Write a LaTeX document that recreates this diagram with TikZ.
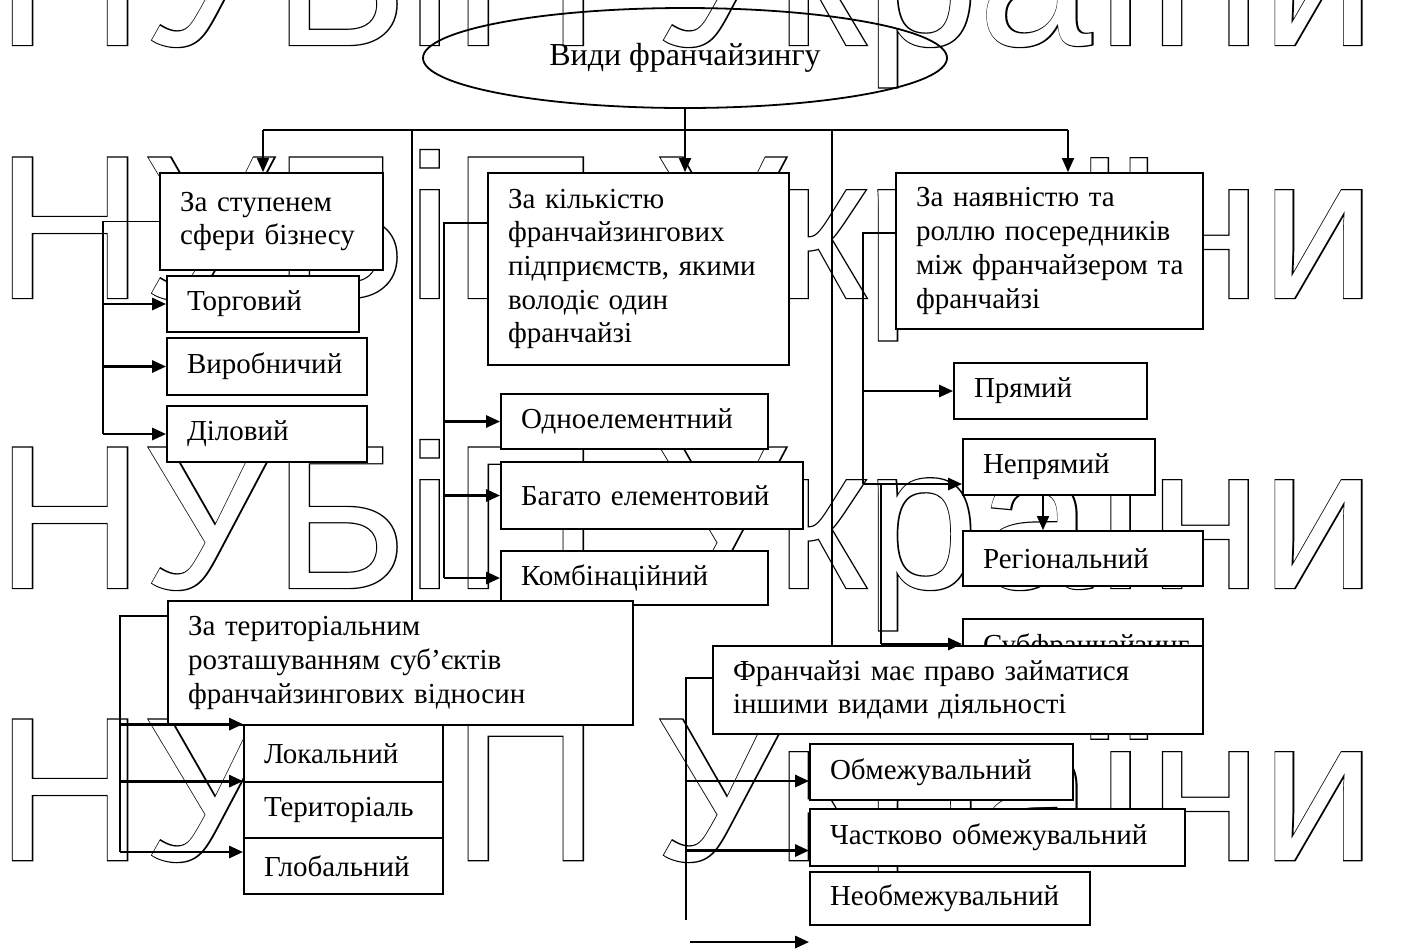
\documentclass[tikz,border=0pt]{standalone}
\usepackage{fontspec}
\setmainfont{Liberation Serif}
\newfontfamily\wmfont{Liberation Sans}
\newfontfamily\wmfontbold[FakeBold=1.2]{Liberation Sans}
\usetikzlibrary{arrows.meta,shapes.geometric}

\begin{document}
\begin{tikzpicture}[x=0.5pt,y=-0.5pt]
  \tikzset{
    box/.style={draw,line width=0.9pt,fill=white,align=left,inner xsep=10pt,inner ysep=0pt,
      font=\fontsize{14.5}{16.85}\selectfont},
    oval/.style={ellipse,draw,line width=0.9pt,inner sep=0pt,font=\fontsize{16}{19}\selectfont},
    conn/.style={line width=0.8pt},
    arr/.style={-{Triangle[length=7pt,width=6pt]},line width=1.4pt},
    wmark/.style={anchor=base west,inner sep=0pt,font=\fontsize{102}{102}\selectfont},
  }
  \useasboundingbox (0,0) rectangle (1406,950);
  % background lettering
  \foreach \y in {45,298,588,860} {
    \node[wmark] at (-4,\y) {\wmfontbold НУБіП України};
    \node[wmark,text=white] at (-4,\y) {\wmfont НУБіП України};
  }

  \node[oval,minimum width=262pt,minimum height=50pt] (view) at (685,58) {Види франчайзингу};

  \node[box,text width=91.5pt,minimum height=48.5pt] (tr) at (271.5,221.5) {За ступенем\\сфери бізнесу};
  \node[box,text width=76pt,minimum height=28pt] (torg) at (263,304) {Торговий};
  \node[box,text width=80pt,minimum height=28.5pt] (vyr) at (267,366.5) {Виробничий};
  \node[box,text width=80pt,minimum height=28pt] (dil) at (267,434) {Діловий};

  \node[box,text width=130.5pt,minimum height=96pt] (kil) at (638.5,269) {За кількістю\\франчайзингових\\підприємств,~якими\\володіє один\\франчайзі};
  \node[box,text width=113.5pt,minimum height=27.5pt] (odn) at (634.5,421.5) {Одноелементний};
  \node[box,text width=131pt,minimum height=33.5pt] (bag) at (652,495.5) {Багато~елементовий};
  \node[box,text width=113.5pt,minimum height=27pt] (komb) at (634.5,578) {Комбінаційний};

  \node[box,text width=133.5pt,minimum height=78pt] (pos) at (1049.5,251) {За наявністю~та\\роллю~посередників\\між~франчайзером~та\\франчайзі};
  \node[box,text width=76.5pt,minimum height=28pt] (pr) at (1050.5,391) {Прямий};
  \node[box,text width=76pt,minimum height=28pt] (nepr) at (1059,467) {Непрямий};
  \node[box,text width=100pt,minimum height=27.5pt] (reg) at (1083,558.5) {Регіональний};
  \node[box,text width=100pt,minimum height=28pt] (sub) at (1083,647) {Субфранчайзинг};

  \node[box,text width=212.5pt,minimum height=62pt] (ter) at (400.5,663) {За територіальним\\розташуванням~суб'єктів\\франчайзингових~відносин};
  \node[box,text width=79.5pt,minimum height=28.5pt] (lok) at (343.5,753.5) {Локальний};
  \node[box,text width=79.5pt,minimum height=28pt] (terr) at (343.5,810) {Територіаль};
  \node[box,text width=79.5pt,minimum height=28pt] (glob) at (343.5,866) {Глобальний};

  \node[box,text width=225pt,minimum height=44pt] (prav) at (958,690) {Франчайзі має право займатися\\іншими видами діяльності};
  \node[box,text width=111.5pt,minimum height=28pt] (obm) at (941.5,772) {Обмежувальний};
  \node[box,text width=167.5pt,minimum height=28.5pt] (chast) at (997.5,837.5) {Частково~обмежувальний};
  \node[box,text width=120pt,minimum height=26.5pt] (neobm) at (950,898.5) {Необмежувальний};

  % top level
  \coordinate (busl) at (263,130);
  \coordinate (busr) at (1068,130);
  \coordinate (splitl) at (412,130);
  \coordinate (splitr) at (832,130);
  \draw[conn] (busl) -- (busr);
  \draw[arr,line width=0.8pt] (view.south) -- (view.south |- kil.north);
  \draw[arr,line width=0.8pt] (busl) -- (busl |- tr.north);
  \draw[arr,line width=0.8pt] (busr) -- (busr |- pos.north);
  \draw[conn,line width=1.1pt] (splitl) -- (splitl |- ter.north);
  \draw[conn,line width=1.1pt] (splitr) -- (splitr |- prav.north);

  % branches
  \coordinate (b1) at (103,434);
  \draw[conn] (tr.west) -| (b1);
  \foreach \n in {torg,vyr,dil} \draw[arr] (b1 |- \n.west) -- (\n.west);

  \coordinate (b2) at (444,578);
  \draw[conn] ([yshift=23pt]kil.west) -| (b2);
  \foreach \n in {odn,bag,komb} \draw[arr] (b2 |- \n.west) -- (\n.west);

  \coordinate (b3) at (863,484);
  \coordinate (b4) at (881,644);
  \draw[conn] ([yshift=9pt]pos.west) -| (b3);
  \draw[arr] (b3 |- pr.west) -- (pr.west);
  \draw[arr] (b3) -- (b3 -| nepr.west);
  \draw[conn] (b3 -| b4) -- (b4);
  \draw[arr] (b4) -- (b4 -| sub.west);
  \draw[arr,line width=0.8pt] ([xshift=-8pt]nepr.south) -- ([xshift=-8pt]nepr.south |- reg.north);

  \coordinate (b5) at (120,852);
  \draw[conn] ([yshift=23.5pt]ter.west) -| (b5);
  \draw[arr] (b5 |- lok.north west) -- (lok.north west);
  \draw[arr] (b5 |- terr.north west) -- (terr.north west);
  \draw[arr] (b5) -- (b5 -| glob.west);

  \coordinate (b6) at (686,920);
  \coordinate (o1) at ([yshift=-4.5pt]obm.west);
  \coordinate (o2) at ([yshift=-6.5pt]chast.west);
  \coordinate (loose) at (690,942);
  \draw[conn] ([yshift=6pt]prav.west) -| (b6);
  \draw[arr] (b6 |- o1) -- (o1);
  \draw[arr] (b6 |- o2) -- (o2);
  \draw[arr] (loose) -- (loose -| neobm.west);
\end{tikzpicture}
\end{document}
